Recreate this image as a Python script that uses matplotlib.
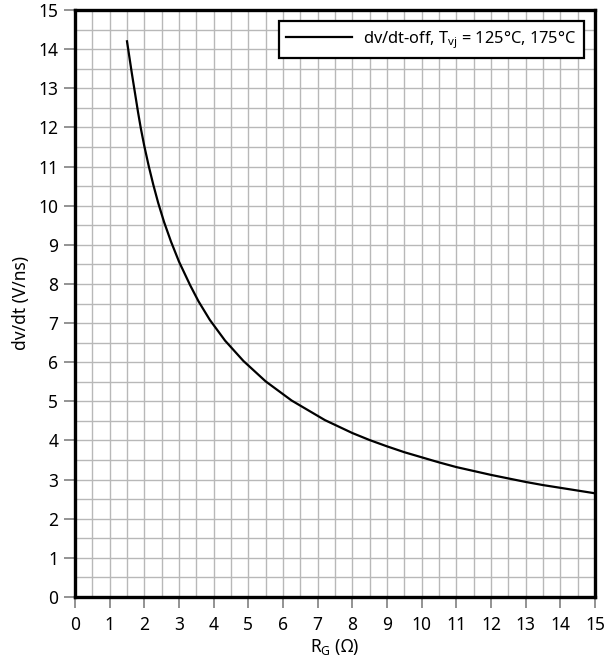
import matplotlib
matplotlib.use("Agg")
import matplotlib.pyplot as plt
import numpy as np

# values
rg = [1.5, 1.64, 1.73, 1.82, 1.9, 2.0, 2.13, 2.26, 2.4, 2.57, 2.77, 3.0, 3.32, 3.56,
      3.89, 4.33, 4.86, 5.5, 6.25, 7.21, 8.0, 8.5, 9.0, 9.5, 10.0, 10.5, 11.0, 11.5,
      12.0, 12.5, 13.0, 13.5, 14.0, 14.5, 15.0]
dvdt = [14.2, 13.38, 12.88, 12.38, 11.97, 11.52, 11.0, 10.53, 10.07, 9.58, 9.08, 8.57, 7.97, 7.56,
        7.08, 6.55, 6.03, 5.51, 5.02, 4.52, 4.19, 4.01, 3.85, 3.7, 3.57, 3.44, 3.32, 3.22,
        3.12, 3.03, 2.94, 2.86, 2.79, 2.72, 2.65]
x_ticks = list(range(0, 16))
y_ticks = list(range(0, 16))
legend_label = "dv/dt-off, T$_{\\mathregular{vj}}$ = 125°C, 175°C"

plt.rcParams['font.family'] = ['Noto Sans', 'DejaVu Sans']
plt.rcParams['mathtext.default'] = 'regular'

fig = plt.figure(figsize=(6.09, 6.67), dpi=100)
ax = fig.add_axes([75/609, 70/667, 520/609, 587/667])

ax.plot(rg, dvdt, color="black", lw=1.6, label=legend_label, zorder=3)

ax.set_xlim(0, 15)
ax.set_ylim(0, 15)
ax.set_xticks(x_ticks)
ax.set_yticks(y_ticks)
ax.set_xticks(np.arange(0, 15.01, 0.5), minor=True)
ax.set_yticks(np.arange(0, 15.01, 0.5), minor=True)
ax.grid(which="both", color="#b8b8b8", lw=1.0)
ax.tick_params(which="major", direction="out", length=8, width=1.2, color="#808080",
               labelsize=12.5)
ax.tick_params(axis="x", which="major", pad=6)
ax.tick_params(axis="y", which="major", pad=4)
ax.tick_params(which="minor", length=0)
for s in ax.spines.values():
    s.set_linewidth(2.4)
    s.set_color("black")

ax.set_xlabel("R$_{\\mathregular{G}}$ (Ω)", fontsize=12.5, labelpad=2)
ax.set_ylabel("dv/dt (V/ns)", fontsize=12.5, labelpad=6)

leg = ax.legend(loc="upper right", fontsize=11.8, frameon=True, fancybox=False,
                borderaxespad=0.7, handlelength=4.0, handletextpad=0.7, borderpad=0.45)
leg.get_frame().set_edgecolor("black")
leg.get_frame().set_linewidth(1.6)
leg.get_frame().set_alpha(1)

fig.savefig("out.png", dpi=100)
